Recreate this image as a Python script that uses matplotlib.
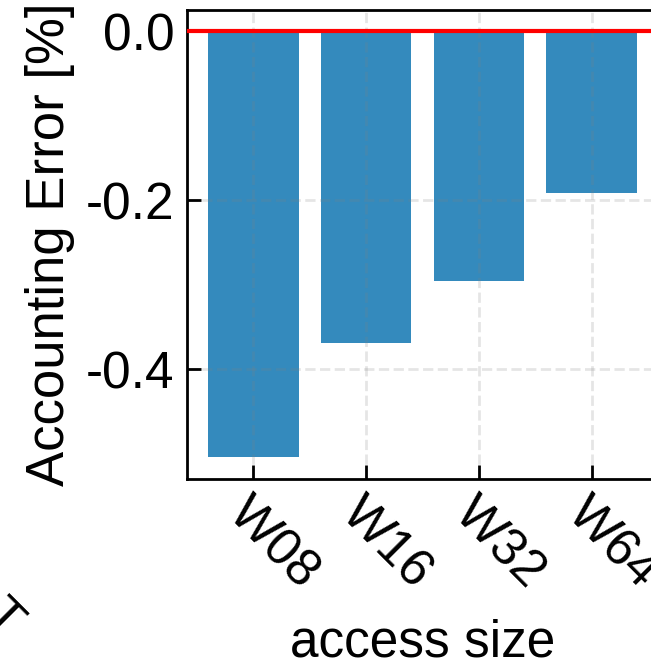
import matplotlib
matplotlib.use("Agg")
import matplotlib.pyplot as plt

plt.rcParams['font.family'] = ['Liberation Sans', 'DejaVu Sans']
plt.rcParams['axes.unicode_minus'] = False

# data
sizes = ["W08", "W16", "W32", "W64"]
error_pct = [-0.504, -0.369, -0.296, -0.191]
yticks = [0.0, -0.2, -0.4]

fig = plt.figure(figsize=(6.51, 6.65), dpi=100)
# right edge of the axes runs past the figure edge, like the cropped original
ax = fig.add_axes([187 / 651, 186 / 665, 471 / 651, 469 / 665])

x = list(range(len(sizes)))
ax.bar(x, error_pct, width=0.8, color='#348ABD', zorder=1)
ax.axhline(0, color='red', linewidth=3, zorder=3)

ax.set_xlim(-0.59, 3.59)
ax.set_ylim(-0.53, 0.025)
ax.set_xticks(x)
ax.set_xticklabels(sizes, rotation=-45, ha='left', rotation_mode='anchor')
ax.set_yticks(yticks)
ax.set_yticklabels([f"{v:.1f}" for v in yticks])

ax.grid(True, linestyle='--', color='gray', alpha=0.2, linewidth=2, zorder=2)
ax.set_axisbelow(False)

ax.tick_params(direction='in', length=10, width=2, labelsize=37, pad=9,
               top=False, right=False)
ax.tick_params(axis='x', pad=7)
for sp in ax.spines.values():
    sp.set_linewidth(2)

ax.set_xlabel("access size", fontsize=37, labelpad=15)
ax.set_ylabel("Accounting Error [%]", fontsize=38, labelpad=8)

# last letter of a neighbouring panel's tick label, cut off at the left edge
fig.text(2 / 651, 1 - 620 / 665, "T", fontsize=37, rotation=-45,
         ha='center', va='center', rotation_mode='anchor')

fig.savefig("out.png", dpi=100)
